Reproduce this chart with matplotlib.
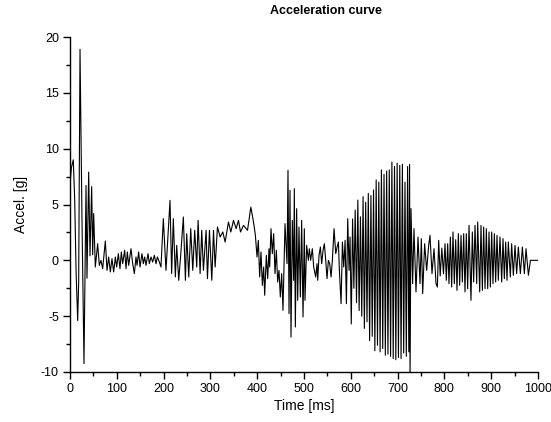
import matplotlib
matplotlib.use("Agg")
import matplotlib.pyplot as plt
from matplotlib.ticker import MultipleLocator

plt.rcParams['font.family'] = ['Liberation Sans', 'DejaVu Sans']
plt.rcParams['axes.unicode_minus'] = False

# ---- data (extrema of the acceleration trace) ----
time_ms = [
    0, 3, 7, 10, 13, 16.4, 18.5, 21.4, 25.5, 29.9, 34.2, 36.3, 39.9, 42.7, 46.3, 48.4, 50.6, 54.1,
    59.1, 62.7, 66.2, 69.8, 75.5, 79.1, 82.6, 86.2, 89.7, 93.3, 96.9, 99.7, 103.3, 106.8, 109.7,
    112.5, 116.8, 119.7, 122.5, 125.4, 130.3, 133.9, 137.5, 141.0, 143.2, 146.7, 149.6, 153.8,
    156.7, 159.5, 162.4, 166.7, 169.5, 173.1, 176.6, 180.2, 183.8, 186.6, 190.9,
    194.4, 199.4, 205.1, 213.7, 217.2, 220.8, 225.1, 228.0, 232.3, 236.5, 242.2, 246.6, 249.4,
    253.7, 258.0, 262.3, 266.5, 270.8, 273.7, 278.0, 281.5, 285.1, 290.8, 293.7, 298.0, 303.0,
    306.6, 310.1, 315.1, 320.8, 326.5, 331.5, 338.6, 343.6, 349.3, 355.0, 360.0, 364.3, 370.7,
    379.3, 386.4, 392.1, 396.0,
    399.6, 402.4, 405.3, 408.1, 411.0, 413.8, 416.0, 419.5, 422.4, 425.2, 426.6, 429.5, 432.3,
    435.2, 438.0, 440.9, 443.7, 446.6, 449.4, 452.3, 455.1, 459.4, 463.7, 465.8, 468.0, 470.1,
    472.2, 475.1, 477.9, 479.3, 481.5, 484.3, 486.5, 489.3, 492.2, 495.0, 497.9, 500.7, 502.1,
    505.7, 509.3, 511.4, 514.2, 517.8, 520.7, 525.0, 527.8, 529.3, 532.1, 535.0, 537.8, 540.7,
    543.5, 546.4, 549.2, 552.1, 554.9, 557.8, 560.6, 564.2, 567.8, 570.7, 573.5, 575.6, 579.2,
    582.1, 584.9, 587.8, 590.6, 593.4, 596.3, 598.4,
    601.0, 603.8, 606.6, 609.4, 612.2, 615.0, 617.8, 620.6, 623.4, 626.2, 629.0, 631.8, 634.6,
    637.4, 640.2, 643.0, 645.8, 648.6, 651.4, 654.2, 657.0, 659.8, 662.6, 665.4, 668.2, 671.0,
    673.8, 676.6, 679.4, 682.2, 685.0, 687.8, 690.6, 693.4, 696.2, 699.0, 701.8, 704.6, 707.4,
    710.2, 713.0, 715.8, 718.6, 721.4, 724.0, 725.6, 726.6,
    728.6, 732.1, 735.0, 739.3, 743.6, 747.9, 750.7, 753.6, 757.8, 762.1, 766.4, 769.2, 773.5,
    777.8, 782.1, 785.0, 787.8, 791.0, 794.5, 798.0,
    801.3, 804.1, 807.0, 809.8, 812.7, 815.5, 818.4, 821.2, 824.1, 826.9, 829.8, 832.6, 835.5,
    838.3, 841.2, 844.0, 846.9, 849.7, 852.6, 856.8, 859.7, 862.5, 865.4, 869.0, 871.1, 875.4,
    878.2, 881.1, 883.9, 886.8, 889.6, 892.5, 895.3, 898.2, 901.0, 903.8, 906.7, 909.5, 912.4,
    915.2, 918.8, 922.4, 925.2, 928.1, 930.9, 933.8, 936.6, 940.9, 943.7, 947.3, 950.9, 954.4,
    958.0, 962.3, 966.6, 970.9, 974.4, 979.5, 983.8, 1000,
]

accel_g = [
    6.8, 8.3, 9.0, 5.5, -1.0, -5.4, -2.0, 18.9, 4.0, -9.25, 6.7, -1.6, 7.9, 0.4, 6.6, 0.5, 4.2, -0.6,
    1.49, -0.45, 0.0, -0.75, 1.73, -0.9, 0.3, -1.04, 0.15, -1.04, 0.3, -0.6, 0.6, -0.75, 0.75,
    -0.3, 0.9, -0.75, 0.75, -0.45, 1.04, -0.3, -1.19, 0.3, -0.45, 0.75, -0.6, 0.6,
    -0.3, 0.3, -0.45, 0.6, -0.3, 0.3, -0.15, 0.45, -0.3, 0.3, -0.15,
    -0.6, 3.73, -0.9, 5.37, -1.19, 3.73, -1.49, 1.34, -1.79, 0.45, 3.88, -1.79, 2.39,
    -1.49, 2.84, -0.9, 2.69, -0.6, 3.58, -1.19, 2.69, -0.9, 2.69, -1.64, 2.69, -1.79,
    2.69, -0.6, 2.99, 2.09, 2.54, 1.64, 3.43, 2.54, 3.58, 2.84, 3.58, 2.54, 3.13,
    2.69, 4.77, 3.43, 2.3,
    0.3, 1.79, -1.49, 0.75, -2.24, -0.6, -3.13, 0.45, -1.64, 1.04, -0.6, 2.83, 0.6,
    2.39, -1.19, 0.9, -1.94, -0.9, -3.28, -1.19, -4.48, 3.28, -0.3, 8.06, -4.78, 6.27,
    -6.87, 3.58, -1.79, 6.42, -5.97, 4.63, -3.58, 2.98, -3.28, 3.58, -5.07, 2.83, -3.58,
    1.34, 0.0, 1.04, 0.0, 1.04, -0.6, -1.49, -0.3, -1.79, 0.45, 1.19, -0.3, 0.9,
    1.49, 0.0, -1.64, 0.0, -0.3, -1.49, 0.0, 2.83, 0.6, 1.19, 1.64, -0.9, -3.88,
    1.64, -0.6, 1.79, -3.88, 3.73, -0.9, 2.09,
    -5.7, 3.7, -2.5, 4.5, -3.8, 5.4, -4.5, 3.9, -5.0, 5.7, -6.1, 5.2, -5.5,
    6.0, -7.2, 5.8, -6.8, 6.3, -8.1, 7.2, -7.6, 7.0, -8.2, 8.1, -7.9, 7.7,
    -8.5, 8.0, -8.4, 8.1, -8.6, 8.8, -8.8, 8.4, -8.9, 8.7, -8.7, 8.5, -8.8,
    8.6, -8.3, 7.0, -8.6, 8.4, -8.2, 8.6, -10.8,
    4.63, -2.09, 2.84, -2.83, 2.09, -2.09, 1.94, -2.98, 1.49, -0.9, 1.34, 2.24, -1.19,
    1.04, -2.09, -2.39, 1.79, -1.4, 1.1, -1.2,
    1.49, -1.79, 1.49, -2.09, 2.09, -2.39, 2.54, -2.09, 1.85, -2.69, 2.39, -2.24, 2.24,
    -1.94, 2.39, -2.83, 2.39, -2.54, 3.13, -3.58, 2.54, -1.94, 3.13, -2.09, 3.43, -2.83,
    3.13, -2.69, 2.98, -2.54, 2.83, -2.54, 2.54, -2.39, 2.54, -2.09, 2.39, -1.94, 2.24,
    -1.79, 2.09, -1.94, 1.94, -1.64, 1.64, -1.79, 1.64, -1.49, 1.49, -1.34, 1.34, -1.19,
    1.19, -1.19, 1.19, -1.19, 1.04, -1.34, 0.0, 0.0,
]

x_ticks = [0, 100, 200, 300, 400, 500, 600, 700, 800, 900, 1000]
y_ticks = [-10, -5, 0, 5, 10, 15, 20]
title_text = "Acceleration curve"
x_label = "Time [ms]"
y_label = "Accel. [g]"

# ---- figure ----
fig = plt.figure(figsize=(5.51, 4.22), dpi=100)
ax = fig.add_axes([70 / 551, 50 / 422, 468 / 551, 335 / 422])

ax.plot(time_ms, accel_g, color='black', linewidth=0.8)

ax.set_xlim(0, 1000)
ax.set_ylim(-10, 20)
ax.set_xticks(x_ticks)
ax.set_yticks(y_ticks)
ax.xaxis.set_minor_locator(MultipleLocator(50))
ax.yaxis.set_minor_locator(MultipleLocator(2.5))

for side in ('top', 'right'):
    ax.spines[side].set_visible(False)
for side in ('left', 'bottom'):
    ax.spines[side].set_linewidth(1.0)

ax.tick_params(which='major', direction='out', length=5, width=1.0, labelsize=9, pad=3)
ax.tick_params(which='minor', direction='out', length=3, width=1.0)

ax.set_xlabel(x_label, fontsize=10, labelpad=3)
ax.set_ylabel(y_label, fontsize=10, labelpad=9)
fig.text(326 / 551, 1 - 11 / 422, title_text, ha='center', va='center',
         fontsize=9, fontweight='bold')

fig.savefig("out.png", dpi=100)
